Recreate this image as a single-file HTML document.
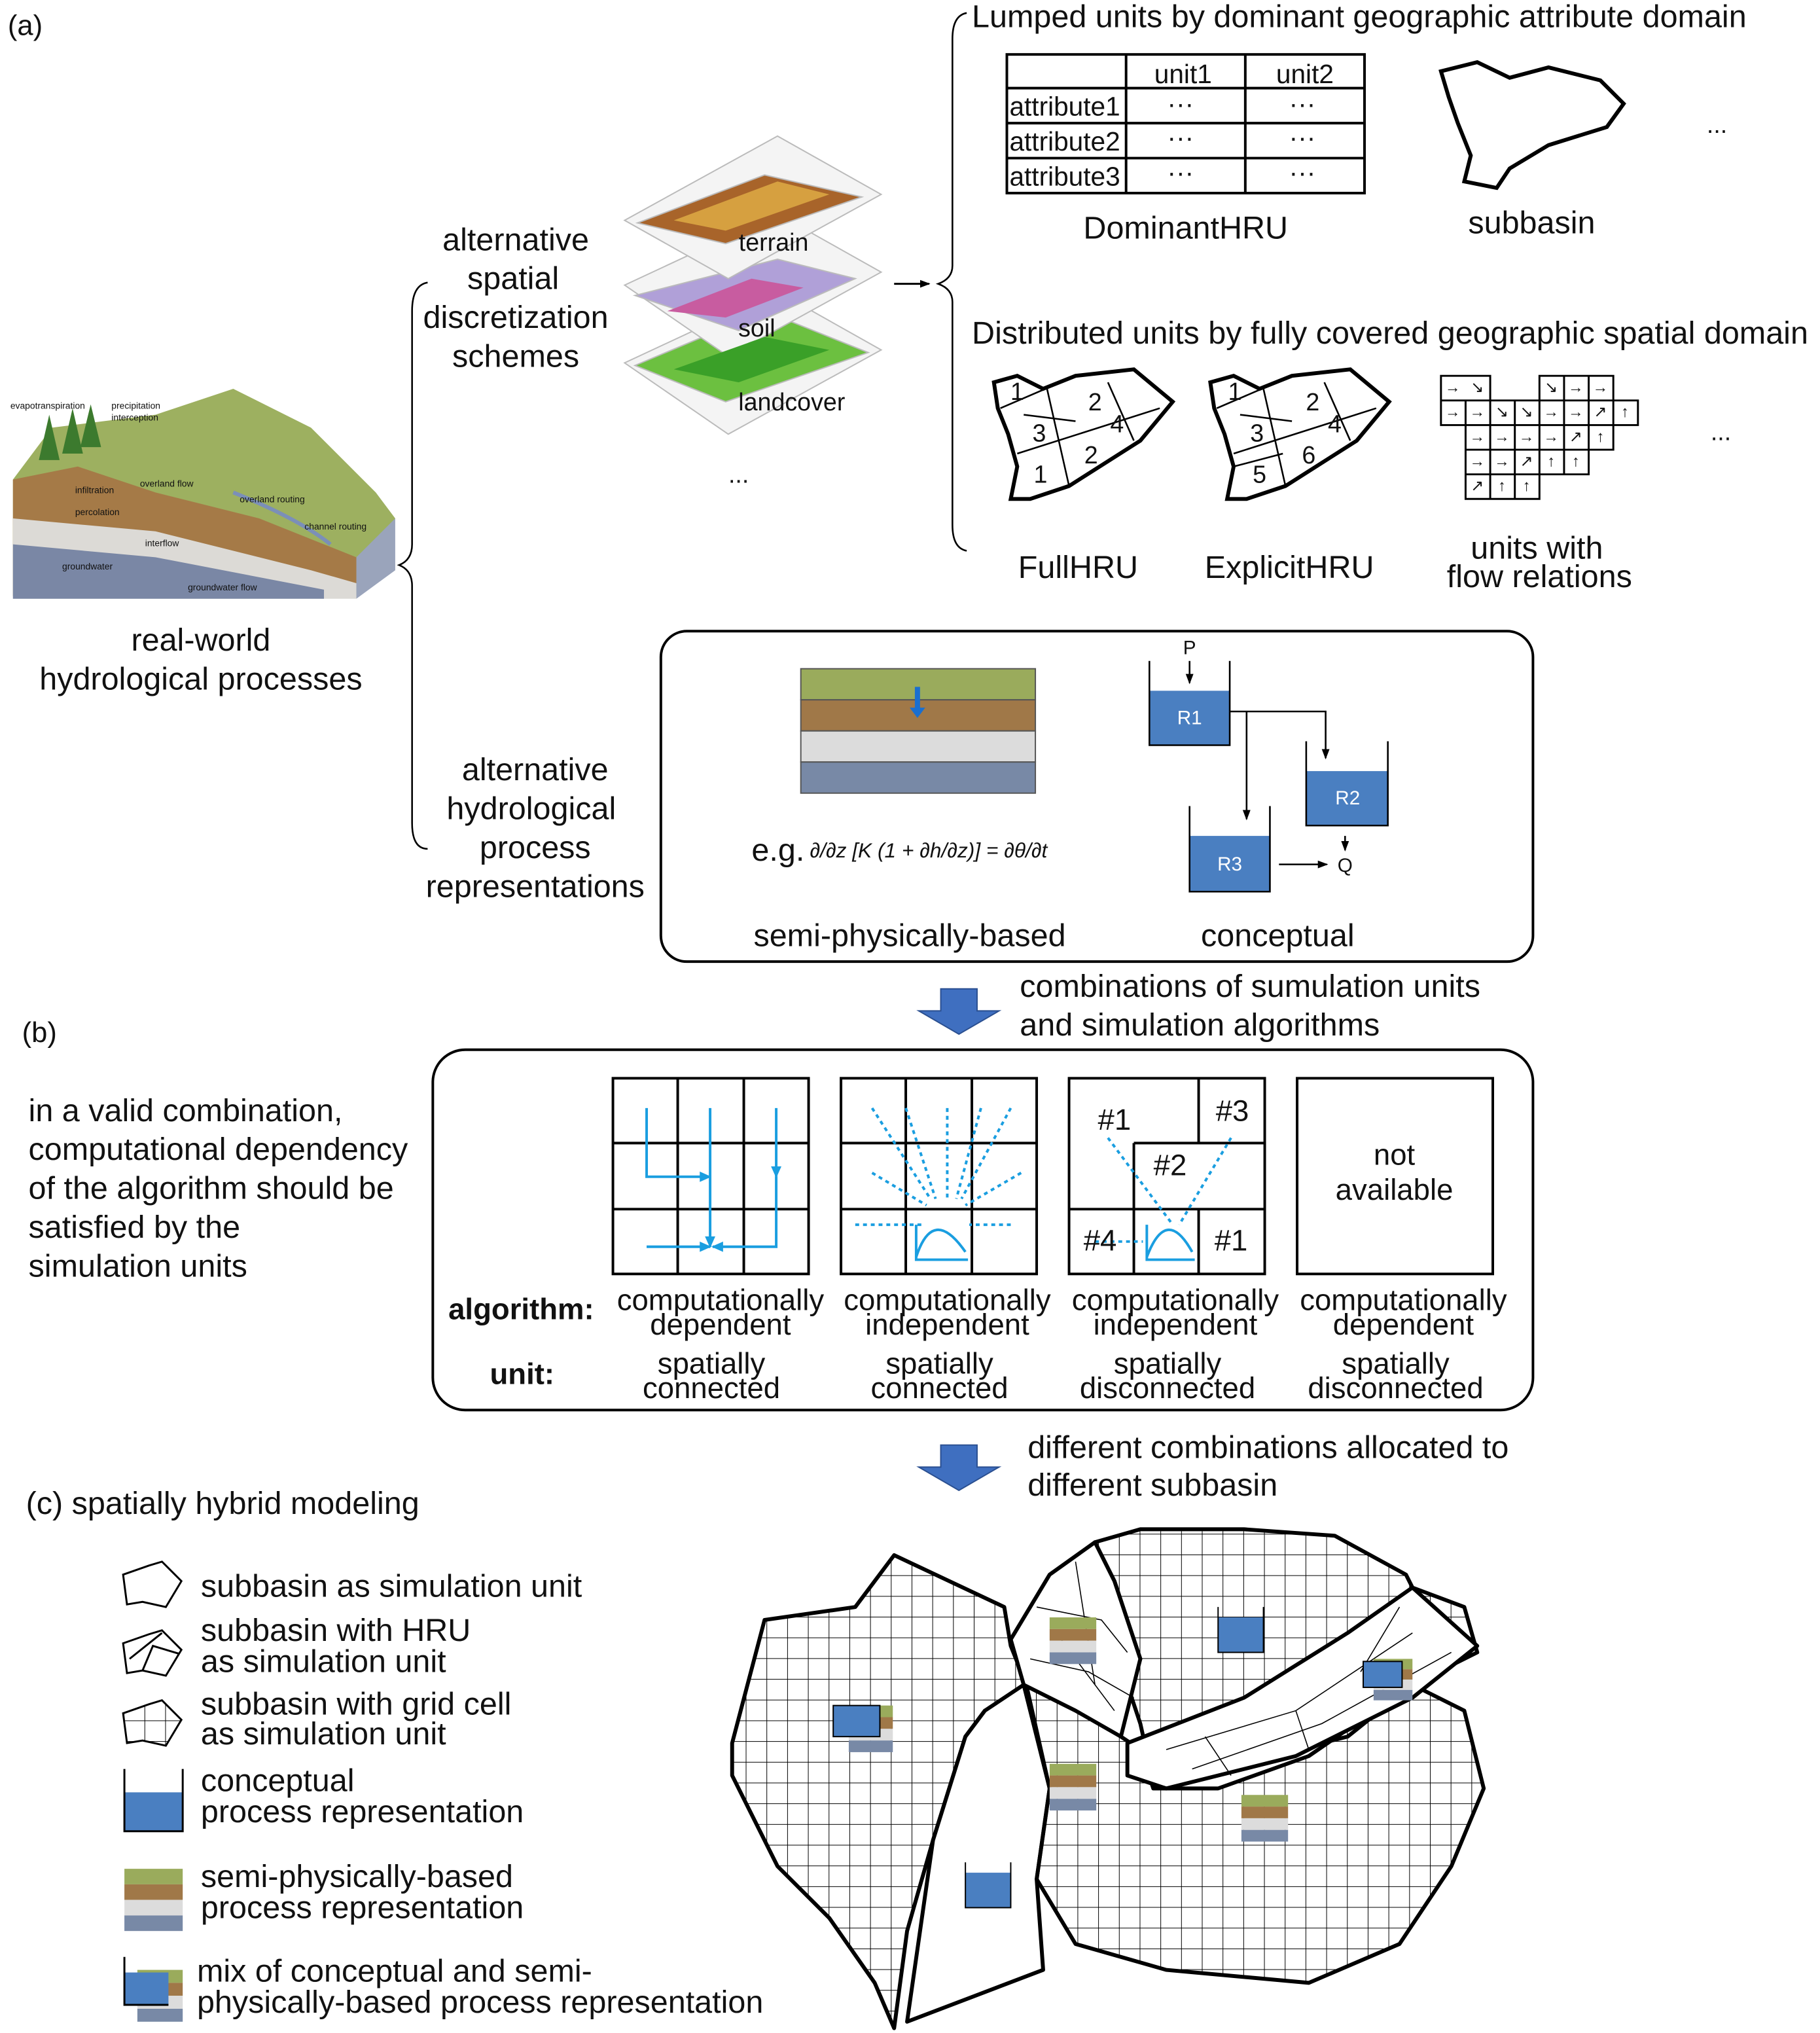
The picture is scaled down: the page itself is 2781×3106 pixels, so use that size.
<!DOCTYPE html>
<html><head><meta charset="utf-8"><style>
html,body{margin:0;padding:0;background:#fff}
svg{display:block}
text{font-family:"Liberation Sans",Arial,sans-serif;fill:#111;dominant-baseline:central}
</style></head><body>
<svg width="2781" height="3106" viewBox="0 0 1404.5 1568.7" preserveAspectRatio="none" xmlns="http://www.w3.org/2000/svg">
<defs>
<pattern id="g" patternUnits="userSpaceOnUse" width="16" height="16"><path d="M16 0V16H0" fill="none" stroke="#000" stroke-width="1"/></pattern>
<marker id="ah" markerWidth="8" markerHeight="8" refX="7" refY="4" orient="auto" markerUnits="userSpaceOnUse"><path d="M0,1 L8,4 L0,7z" fill="#000"/></marker>
<marker id="bh" markerWidth="10" markerHeight="10" refX="8" refY="5" orient="auto" markerUnits="userSpaceOnUse"><path d="M0,1 L9,5 L0,9z" fill="#1a9ee0"/></marker>
</defs>
<rect width="1404.5" height="1568.7" fill="#fff"/>
<g font-size="24.5">
<text x="6" y="20" font-size="22">(a)</text>
<!-- landscape -->
<polygon points="10,370 40,330 120,320 180,300 240,330 290,380 305,400 275,460 10,460" fill="#9db060"/>
<polygon points="10,370 60,360 120,380 200,400 250,420 275,430 275,460 10,460" fill="#a57a47"/>
<polygon points="10,400 120,410 240,440 275,450 275,462 10,462" fill="#dcdad6"/>
<polygon points="10,420 120,430 250,455 250,462 10,462" fill="#7a87a5"/>
<polygon points="275,430 305,400 305,440 275,462" fill="#9aa4bb"/>
<path d="M180,380 Q230,400 255,420" stroke="#7b8fb8" stroke-width="3" fill="none"/>
<g fill="#3c7a2e"><polygon points="30,355 38,320 46,355"/><polygon points="48,350 56,315 64,350"/><polygon points="62,345 70,312 78,345"/></g>
<g font-size="7"><text x="8" y="313">evapotranspiration</text><text x="86" y="313">precipitation</text><text x="86" y="322">interception</text><text x="58" y="378">infiltration</text><text x="108" y="373">overland flow</text><text x="185" y="385">overland routing</text><text x="58" y="395">percolation</text><text x="235" y="406">channel routing</text><text x="112" y="419">interflow</text><text x="48" y="437">groundwater</text><text x="145" y="453">groundwater flow</text></g>
<text x="155" y="494" text-anchor="middle">real-world</text>
<text x="155" y="524" text-anchor="middle">hydrological processes</text>
<path d="M330,218 Q318,220 318,240 L318,420 Q318,432 308,436 Q318,440 318,452 L318,635 Q318,655 330,655" fill="none" stroke="#000" stroke-width="1.3"/>
<g text-anchor="middle"><text x="398" y="185">alternative</text><text x="396" y="215">spatial</text><text x="398" y="245">discretization</text><text x="398" y="275">schemes</text>
<text x="413" y="594">alternative</text><text x="410" y="624">hydrological</text><text x="413" y="654">process</text><text x="413" y="684">representations</text></g>
<!-- layers -->
<g stroke="#bbb" stroke-width="1">
<polygon points="482,280 600,225 680,270 562,335" fill="#f4f4f4"/>
<polygon points="490,282 590,240 670,272 560,310" fill="#6cc040"/>
<polygon points="482,220 600,165 680,210 562,275" fill="#f4f4f4"/>
<polygon points="490,228 600,200 660,215 570,255" fill="#b0a0d8"/>
<polygon points="482,170 600,105 680,150 562,215" fill="#f4f4f4"/>
<polygon points="492,172 590,135 665,152 560,188" fill="#a8642a"/>
</g>
<polygon points="520,170 600,140 640,150 560,178" fill="#d6a040"/>
<polygon points="515,240 580,215 620,222 560,245" fill="#c85ca0"/>
<polygon points="520,285 590,260 640,270 570,295" fill="#3aa028"/>
<text x="597" y="187" text-anchor="middle" font-size="19">terrain</text>
<text x="584" y="253" text-anchor="middle" font-size="19">soil</text>
<text x="611" y="310" text-anchor="middle" font-size="19">landcover</text>
<text x="570" y="366" text-anchor="middle" font-size="19">...</text>
<line x1="690" y1="219" x2="717" y2="219" stroke="#000" stroke-width="1.5" marker-end="url(#ah)"/>
<path d="M746,10 Q735,12 735,30 L735,205 Q735,215 724,219 Q735,223 735,233 L735,405 Q735,423 746,425" fill="none" stroke="#000" stroke-width="1.3"/>
<text x="750" y="13">Lumped units by dominant geographic attribute domain</text>
<g stroke="#000" stroke-width="2" fill="none"><rect x="777" y="42" width="276" height="107"/><line x1="777" y1="68" x2="1053" y2="68"/><line x1="777" y1="95" x2="1053" y2="95"/><line x1="777" y1="122" x2="1053" y2="122"/><line x1="869" y1="42" x2="869" y2="149"/><line x1="961" y1="42" x2="961" y2="149"/></g>
<g font-size="20.5"><text x="913" y="57" text-anchor="middle">unit1</text><text x="1007" y="57" text-anchor="middle">unit2</text>
<text x="779" y="82">attribute1</text><text x="779" y="109">attribute2</text><text x="779" y="136">attribute3</text>
<text x="911" y="80" text-anchor="middle">···</text><text x="1005" y="80" text-anchor="middle">···</text><text x="911" y="106" text-anchor="middle">···</text><text x="1005" y="106" text-anchor="middle">···</text><text x="911" y="133" text-anchor="middle">···</text><text x="1005" y="133" text-anchor="middle">···</text></g>
<polygon points="1112,55 1140,48 1165,60 1195,52 1235,62 1253,80 1240,98 1195,112 1165,130 1155,145 1130,140 1135,120 1125,95 1118,75" fill="none" stroke="#000" stroke-width="3"/>
<text x="915" y="176" text-anchor="middle">DominantHRU</text>
<text x="1182" y="172" text-anchor="middle">subbasin</text>
<text x="1325" y="96" text-anchor="middle" font-size="19">...</text>
<text x="750" y="257">Distributed units by fully covered geographic spatial domain</text>
<g stroke="#000" fill="none">
<polygon points="767,295 785,290 805,300 830,290 875,285 905,310 880,340 825,375 795,385 780,385 785,360 778,335 770,315" stroke-width="3"/>
<polygon points="934,295 952,290 972,300 997,290 1042,285 1072,310 1047,340 992,375 962,385 947,385 952,360 945,335 937,315" stroke-width="3"/>
<g stroke-width="1.3"><path d="M772,315 L830,290 M785,350 L895,315 M825,375 L808,300 M855,295 L875,340 M790,320 L830,325"/>
<path d="M939,315 L997,290 M952,350 L1062,315 M992,375 L975,300 M1022,295 L1042,340 M957,320 L997,325 M952,360 L990,350"/></g>
</g>
<g font-size="19" text-anchor="middle"><text x="785" y="302">1</text><text x="845" y="310">2</text><text x="802" y="334">3</text><text x="862" y="327">4</text><text x="842" y="351">2</text><text x="803" y="366">1</text>
<text x="953" y="302">1</text><text x="1013" y="310">2</text><text x="970" y="334">3</text><text x="1030" y="327">4</text><text x="1010" y="351">6</text><text x="972" y="366">5</text></g>
<g stroke="#000" stroke-width="1.5" fill="none">
<path d="M1112,290h38v19h-38zM1112,309h76v19h-76zM1188,290h57v19h-57zM1188,309h76v19h-76zM1131,328h114v19h-114zM1131,347h95v19h-95zM1131,366h57v19h-57z"/>
<path d="M1131,309v19M1150,309v19M1169,309v19M1207,290v38M1226,290v38M1245,309v19M1150,328v57M1169,328v57M1188,328v38M1207,328v38M1226,328v19"/>
</g>
<g font-size="12" text-anchor="middle"><text x="1121" y="299">→</text><text x="1140" y="299">↘</text><text x="1197" y="299">↘</text><text x="1216" y="299">→</text><text x="1235" y="299">→</text>
<text x="1121" y="318">→</text><text x="1140" y="318">→</text><text x="1159" y="318">↘</text><text x="1178" y="318">↘</text><text x="1197" y="318">→</text><text x="1216" y="318">→</text><text x="1235" y="318">↗</text><text x="1254" y="318">↑</text>
<text x="1140" y="337">→</text><text x="1159" y="337">→</text><text x="1178" y="337">→</text><text x="1197" y="337">→</text><text x="1216" y="337">↗</text><text x="1235" y="337">↑</text>
<text x="1140" y="356">→</text><text x="1159" y="356">→</text><text x="1178" y="356">↗</text><text x="1197" y="356">↑</text><text x="1216" y="356">↑</text>
<text x="1140" y="375">↗</text><text x="1159" y="375">↑</text><text x="1178" y="375">↑</text></g>
<text x="832" y="438" text-anchor="middle">FullHRU</text><text x="995" y="438" text-anchor="middle">ExplicitHRU</text>
<text x="1186" y="423" text-anchor="middle">units with</text><text x="1188" y="445" text-anchor="middle">flow relations</text>
<text x="1328" y="333" text-anchor="middle" font-size="19">...</text>
<!-- process box -->
<rect x="510" y="487" width="673" height="255" rx="20" fill="none" stroke="#000" stroke-width="2"/>
<rect x="618" y="516" width="181" height="24" fill="#9aab5c" stroke="#555"/><rect x="618" y="540" width="181" height="24" fill="#a07848" stroke="#555"/><rect x="618" y="564" width="181" height="24" fill="#dcdcdc" stroke="#555"/><rect x="618" y="588" width="181" height="24" fill="#7889a6" stroke="#555"/>
<path d="M708,530V548" stroke="#1a6fd0" stroke-width="4"/><path d="M702,546h12l-6,8z" fill="#1a6fd0"/>
<text x="580" y="656">e.g.</text>
<text x="625" y="656" font-family="Liberation Serif" font-style="italic" font-size="16">∂/∂z [K (1 + ∂h/∂z)] = ∂θ/∂t</text>
<text x="702" y="722" text-anchor="middle">semi-physically-based</text><text x="986" y="722" text-anchor="middle">conceptual</text>
<rect x="887" y="533" width="62" height="42" fill="#4a7fc1"/><rect x="1008" y="595" width="63" height="42" fill="#4a7fc1"/><rect x="918" y="645" width="62" height="43" fill="#4a7fc1"/>
<g stroke="#000" stroke-width="1.3" fill="none"><path d="M887,510V575H949V510M1008,572V637H1071V572M918,622V688H980V622"/>
<path d="M918,510V527" marker-end="url(#ah)"/><path d="M949,549H1023V585" marker-end="url(#ah)"/><path d="M962,549V632" marker-end="url(#ah)"/><path d="M987,667H1024" marker-end="url(#ah)"/><path d="M1038,645V656" marker-end="url(#ah)"/></g>
<g font-size="15" text-anchor="middle"><text x="918" y="554" style="fill:#fff">R1</text><text x="1040" y="616" style="fill:#fff">R2</text><text x="949" y="667" style="fill:#fff">R3</text></g>
<text x="918" y="500" text-anchor="middle" font-size="15">P</text><text x="1038" y="668" text-anchor="middle" font-size="15">Q</text>
<!-- big arrows -->
<polygon points="726,763 754,763 754,780 771,780 740,798 709,780 726,780" fill="#3f6fc0" stroke="#2a4f90"/>
<text x="787" y="761">combinations of sumulation units</text><text x="787" y="791">and simulation algorithms</text>
<text x="17" y="797" font-size="22">(b)</text>
<text x="22" y="857">in a valid combination,</text><text x="22" y="887">computational dependency</text><text x="22" y="917">of the algorithm should be</text><text x="22" y="947">satisfied by the</text><text x="22" y="977">simulation units</text>
<rect x="334" y="810" width="849" height="278" rx="25" fill="none" stroke="#000" stroke-width="2"/>
<g stroke="#000" stroke-width="2" fill="none">
<rect x="473" y="832" width="151" height="151"/><path d="M523,832V983M574,832V983M473,882H624M473,933H624"/>
<rect x="649" y="832" width="151" height="151"/><path d="M699,832V983M750,832V983M649,882H800M649,933H800"/>
<rect x="825" y="832" width="151" height="151"/><path d="M925,832V882M875,882H976M875,882V933M825,933H976M875,933V983M925,933V983"/>
<rect x="1001" y="832" width="151" height="151"/>
</g>
<g stroke="#1a9ee0" stroke-width="2" fill="none">
<path d="M499,855V908H548" marker-end="url(#bh)"/><path d="M548,855V962" marker-end="url(#bh)"/><path d="M499,962H548" marker-end="url(#bh)"/><path d="M599,855V908" marker-end="url(#bh)"/><path d="M599,908V962H550" marker-end="url(#bh)"/>
<g stroke-dasharray="3,3"><path d="M673,855L718,925M699,855L722,925M731,855L731,925M757,855L738,925M780,855L742,925M673,905L715,930M788,905L745,930M660,945L712,945M780,945L748,945"/>
<path d="M855,878L905,945M950,878L910,945M845,958L882,958"/></g>
<path d="M707,945V972H747M707,970Q720,930 745,966"/>
<path d="M885,945V972H922M885,970Q900,930 920,966"/>
</g>
<g font-size="23" text-anchor="middle"><text x="860" y="864">#1</text><text x="951" y="857">#3</text><text x="903" y="899">#2</text><text x="849" y="957">#4</text><text x="950" y="957">#1</text>
<text x="1076" y="891">not</text><text x="1076" y="918">available</text></g>
<text x="346" y="1010" font-weight="bold" font-size="23">algorithm:</text><text x="378" y="1060" font-weight="bold" font-size="23">unit:</text>
<g text-anchor="middle" font-size="23"><text x="556" y="1003">computationally</text><text x="556" y="1022">dependent</text><text x="549" y="1052">spatially</text><text x="549" y="1071">connected</text>
<text x="731" y="1003">computationally</text><text x="731" y="1022">independent</text><text x="725" y="1052">spatially</text><text x="725" y="1071">connected</text>
<text x="907" y="1003">computationally</text><text x="907" y="1022">independent</text><text x="901" y="1052">spatially</text><text x="901" y="1071">disconnected</text>
<text x="1083" y="1003">computationally</text><text x="1083" y="1022">dependent</text><text x="1077" y="1052">spatially</text><text x="1077" y="1071">disconnected</text></g>
<polygon points="726,1115 754,1115 754,1132 771,1132 740,1150 709,1132 726,1132" fill="#3f6fc0" stroke="#2a4f90"/>
<text x="793" y="1117">different combinations allocated to</text><text x="793" y="1146">different subbasin</text>
<text x="20" y="1160">(c)  spatially hybrid modeling</text>
<!-- legend -->
<g stroke="#000" stroke-width="1.5" fill="none">
<polygon points="95,1215 115,1208 125,1205 140,1220 128,1240 110,1236 98,1238"/>
<polygon points="95,1268 115,1261 125,1258 140,1273 128,1293 110,1289 98,1291"/><path d="M100,1280L125,1260M110,1289L118,1270L138,1276"/>
<polygon points="95,1322 115,1315 125,1312 140,1327 128,1347 110,1343 98,1345" fill="url(#g)"/>
</g>
<rect x="96" y="1383" width="45" height="30" fill="#4a7fc1"/><path d="M96,1365V1413H141V1365" fill="none" stroke="#000" stroke-width="1.5"/>
<rect x="96" y="1442" width="45" height="12" fill="#9aab5c"/><rect x="96" y="1454" width="45" height="12" fill="#a07848"/><rect x="96" y="1466" width="45" height="12" fill="#dcdcdc"/><rect x="96" y="1478" width="45" height="12" fill="#7889a6"/>
<rect x="106" y="1520" width="35" height="10" fill="#9aab5c"/><rect x="106" y="1530" width="35" height="10" fill="#a07848"/><rect x="106" y="1540" width="35" height="10" fill="#dcdcdc"/><rect x="106" y="1550" width="35" height="10" fill="#7889a6"/>
<rect x="96" y="1522" width="34" height="25" fill="#4a7fc1"/><path d="M96,1510V1547H130" fill="none" stroke="#000" stroke-width="1.5"/>
<text x="155" y="1224">subbasin as simulation unit</text><text x="155" y="1258">subbasin with HRU</text><text x="155" y="1282">as simulation unit</text>
<text x="155" y="1315">subbasin with grid cell</text><text x="155" y="1338">as simulation unit</text>
<text x="155" y="1374">conceptual</text><text x="155" y="1398">process representation</text>
<text x="155" y="1448">semi-physically-based</text><text x="155" y="1472">process representation</text>
<text x="152" y="1521">mix of conceptual and semi-</text><text x="152" y="1545">physically-based process representation</text>
<!-- map -->
<g stroke="#000" stroke-width="3" stroke-linejoin="round">
<polygon points="565,1345 590,1250 660,1240 690,1200 775,1240 780,1270 792,1300 785,1330 760,1320 745,1340 720,1420 700,1490 690,1565 675,1530 640,1480 600,1440 565,1370" fill="url(#g)"/>
<polygon points="790,1300 810,1380 800,1450 805,1520 700,1560 720,1420 745,1340 760,1320" fill="#fff"/>
<polygon points="792,1300 850,1330 880,1350 890,1380 940,1380 1010,1355 1090,1300 1130,1320 1145,1380 1120,1440 1080,1500 1010,1530 900,1520 830,1500 800,1450 810,1380" fill="url(#g)"/>
<polygon points="845,1190 880,1180 960,1180 1030,1185 1085,1215 1090,1225 1130,1240 1140,1275 1090,1300 1040,1340 960,1360 890,1375 880,1330 870,1300 880,1280 860,1220" fill="url(#g)"/>
<polygon points="870,1345 960,1310 1040,1260 1090,1225 1140,1270 1090,1310 1000,1355 900,1380 870,1370" fill="#fff"/>
<polygon points="780,1265 810,1215 845,1190 860,1220 880,1280 865,1340 830,1320 790,1300" fill="#fff"/>
</g>
<g stroke="#000" stroke-width="0.8" fill="none"><path d="M800,1240L850,1250L870,1275M795,1280L840,1290L875,1310M830,1205L845,1300M815,1260L860,1320"/>
<path d="M900,1350L1000,1320L1090,1260M920,1365L1020,1330L1120,1275M1000,1320L1010,1350M1050,1290L1080,1240M930,1340L950,1370"/></g>
<g>
<rect x="810" y="1248" width="36" height="9" fill="#9aab5c"/><rect x="810" y="1257" width="36" height="9" fill="#a07848"/><rect x="810" y="1266" width="36" height="9" fill="#dcdcdc"/><rect x="810" y="1275" width="36" height="9" fill="#7889a6"/>
<rect x="810" y="1361" width="36" height="9" fill="#9aab5c"/><rect x="810" y="1370" width="36" height="9" fill="#a07848"/><rect x="810" y="1379" width="36" height="9" fill="#dcdcdc"/><rect x="810" y="1388" width="36" height="9" fill="#7889a6"/>
<rect x="958" y="1385" width="36" height="9" fill="#9aab5c"/><rect x="958" y="1394" width="36" height="9" fill="#a07848"/><rect x="958" y="1403" width="36" height="9" fill="#dcdcdc"/><rect x="958" y="1412" width="36" height="9" fill="#7889a6"/>
<rect x="655" y="1316" width="34" height="9" fill="#9aab5c"/><rect x="655" y="1325" width="34" height="9" fill="#a07848"/><rect x="655" y="1334" width="34" height="9" fill="#dcdcdc"/><rect x="655" y="1343" width="34" height="9" fill="#7889a6"/>
<rect x="643" y="1316" width="36" height="24" fill="#4a7fc1" stroke="#000"/>
<rect x="1060" y="1280" width="30" height="8" fill="#9aab5c"/><rect x="1060" y="1288" width="30" height="8" fill="#a07848"/><rect x="1060" y="1296" width="30" height="8" fill="#dcdcdc"/><rect x="1060" y="1304" width="30" height="8" fill="#7889a6"/>
<rect x="1052" y="1282" width="30" height="20" fill="#4a7fc1" stroke="#000"/>
<rect x="940" y="1248" width="35" height="27" fill="#4a7fc1"/><path d="M940,1240V1275H975V1240" fill="none" stroke="#000"/>
<rect x="745" y="1445" width="35" height="27" fill="#4a7fc1"/><path d="M745,1437V1472H780V1437" fill="none" stroke="#000"/>
</g>
</g>
</svg>
</body></html>
